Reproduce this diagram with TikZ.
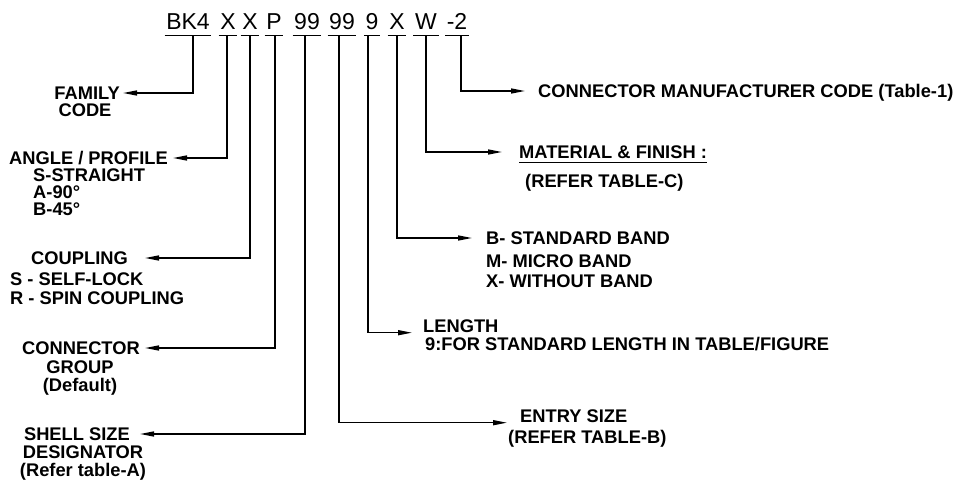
\documentclass[tikz,border=0pt]{standalone}
\usepackage{fontspec}
\setmainfont{Liberation Sans}
\usepackage{tikz}
\usetikzlibrary{arrows.meta}

\begin{document}
\begin{tikzpicture}[
  x=1pt, y=-1pt,
  font=\fontsize{18.3}{18}\selectfont\bfseries,
  code/.style={font=\fontsize{23}{24}\selectfont\mdseries, anchor=base,
               inner xsep=1.5pt, inner ysep=6pt, text depth=0pt},
  head/.style={inner sep=0pt, text height=13pt, text depth=0pt},
  txt/.style={inner sep=0pt, align=left},
  bar/.style={line width=1.3pt},
  lead/.style={line width=1.4pt, -{Triangle[length=14pt, width=5pt]}}
]
\useasboundingbox (0,0) rectangle (968,482);

% ---- Part number ----
\node[code] (c1)  at (188,29) {BK4};
\node[code] (c2)  at (228,29) {X};
\node[code] (c3)  at (250,29) {X};
\node[code] (c4)  at (274,29) {P};
\node[code] (c5)  at (307,29) {99};
\node[code] (c6)  at (342,29) {99};
\node[code] (c7)  at (372,29) {9};
\node[code] (c8)  at (397,29) {X};
\node[code] (c9)  at (426,29) {W};
\node[code] (c10) at (457,29) {-2};

\foreach \i in {1,...,10}
  \draw[bar] (c\i.south west) -- (c\i.south east);

% ---- Left side (leaders point left) ----
\node[head, anchor=east] (fam) at (120,93) {FAMILY};
\node[txt, anchor=north] (famD) at (85,103.5) {CODE};

\node[head, anchor=east] (ang) at (168,158) {ANGLE / PROFILE};
\node[txt, anchor=north west, font=\fontsize{18.3}{17}\selectfont\bfseries]
  (angD) at (33,168.5) {S-STRAIGHT\\A-90°\\B-45°};

\node[head, anchor=east] (cpl) at (128,258) {COUPLING};
\node[txt, anchor=north west, font=\fontsize{18.3}{19}\selectfont\bfseries]
  (cplD) at (10,272.5) {S - SELF-LOCK\\R - SPIN COUPLING};

\node[head, anchor=east] (grp) at (140,348) {CONNECTOR};
\node[txt, align=center, anchor=north, font=\fontsize{18.3}{18}\selectfont\bfseries]
  (grpD) at (80,361) {GROUP\\(Default)};

\node[head, anchor=east] (shl) at (130,434) {SHELL SIZE};
\node[txt, align=center, anchor=north, font=\fontsize{18.3}{18}\selectfont\bfseries]
  (shlD) at (83,446) {DESIGNATOR\\(Refer table-A)};

\draw[lead, shorten >=3pt]  ([xshift=5pt]c1.south) |- (fam.east);
\draw[lead, shorten >=5pt]  ([xshift=-1pt]c2.south) |- (ang.east);
\draw[lead, shorten >=17pt] (c3.south) |- (cpl.east);
\draw[lead, shorten >=5pt]  ([xshift=1pt]c4.south) |- (grp.east);
\draw[lead, shorten >=10pt] ([xshift=-2pt]c5.south) |- (shl.east);

% ---- Right side (leaders point right) ----
\node[head, anchor=west] (mfr) at (538,91) {CONNECTOR MANUFACTURER CODE (Table-1)};

\node[head, anchor=west] (mat) at (519,152) {MATERIAL \& FINISH :};
\draw[bar] ([yshift=-4pt]mat.south west) -- ([yshift=-4pt]mat.south east);
\node[head, anchor=west] (matD) at (525,181) {(REFER TABLE-C)};

\node[head, anchor=west] (band) at (486,238) {B- STANDARD BAND};
\node[txt, anchor=north west, font=\fontsize{18.3}{20.5}\selectfont\bfseries]
  (bandD) at (486,254.5) {M- MICRO BAND\\X- WITHOUT BAND};

\node[head, anchor=west] (len) at (423,326) {LENGTH};
\node[head, anchor=west] (lenD) at (425,344) {9:FOR STANDARD LENGTH IN TABLE/FIGURE};

\node[head, anchor=west] (ent) at (520,416) {ENTRY SIZE};
\node[head, anchor=west] (entD) at (508,437) {(REFER TABLE-B)};

\draw[lead, shorten >=13pt] ([xshift=4pt]c10.south) |- (mfr.west);
\draw[lead, shorten >=17pt] (c9.south) |- (mat.west);
\draw[lead, shorten >=14pt] (c8.south) |- (band.west);
\draw[lead, shorten >=11pt] ([xshift=-4pt]c7.south) |- (len.south west);
\draw[lead, shorten >=13pt] ([xshift=-3pt]c6.south) |- (ent.south west);

\end{tikzpicture}
\end{document}
